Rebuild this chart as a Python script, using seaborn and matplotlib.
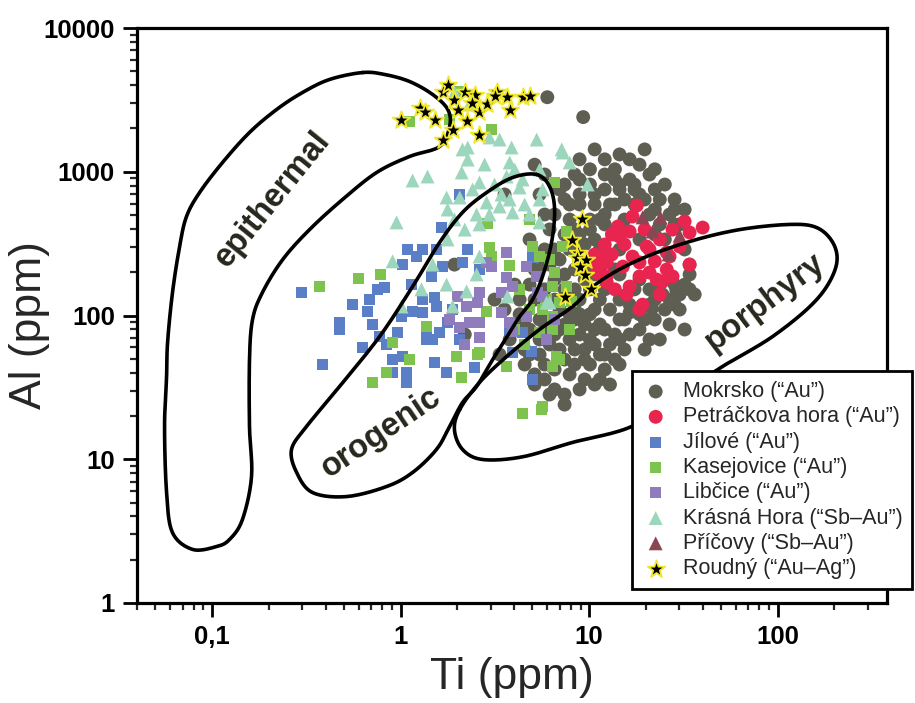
import numpy as np
import matplotlib
matplotlib.use('Agg')
import matplotlib.pyplot as plt
import seaborn as sns
from matplotlib.ticker import LogLocator, FixedLocator, FixedFormatter, NullFormatter

sns.set_theme(style='ticks')
plt.rcParams['font.family'] = ['Liberation Sans', 'DejaVu Sans']

# ---------------- data (Ti ppm, Al ppm) ----------------
mok_x = [6.0, 9.3, 10.7, 12.1, 14.5, 19.7, 22.3, 8.9, 5.14, 8.9,
         7.41, 10.1, 13.7, 16.4, 22.3, 25.2, 28.4, 26.7, 30.2, 22.3,
         17.4, 14.5, 12.1, 12.9, 10.7, 8.9, 7.41, 7.88, 8.9, 7.41,
         10.7, 12.1, 15.4, 17.4, 6.97, 5.46, 3.56, 16.4, 20.9, 23.7,
         28.4, 32.1, 28.4, 32.1, 34.1, 32.1, 36.3, 30.2, 28.4, 25.2,
         32.1, 19.7, 15.4, 13.7, 12.1, 11.4, 9.47, 9.47, 7.41, 6.56,
         7.41, 7.41, 8.9, 10.7, 13.7, 14.5, 12.9, 10.7, 8.9, 7.41,
         6.56, 12.1, 16.4, 18.5, 13.7, 17.4, 14.5, 10.7, 8.9, 8.38,
         6.56, 12.1, 10.1, 10.7, 8.38, 8.9, 12.9, 14.5, 12.1, 10.1,
         6.17, 5.46, 5.14, 4.55, 3.79, 4.55, 3.35, 1.93, 2.19, 4.28,
         4.28, 5.46, 3.56, 3.15, 4.03, 16.4, 22.3, 30.2, 34.1, 28.4,
         11.4, 10.1, 5.14, 5.81, 6.17, 5.81, 6.97, 8.38, 10.1, 11.4,
         9.47, 7.88, 6.56, 7.41, 10.1, 11.4, 8.38, 6.56, 5.81, 14.5,
         13.7, 15.4, 18.5, 22.3, 7.88, 6.97, 10.7, 12.9, 9.47, 20.9,
         23.7, 4.83, 5.14, 4.83, 5.81, 34.1, 18.5, 12.1, 19.7, 23.7,
         18.5, 14.5, 20.9, 26.7, 23.7, 8.38, 6.97, 6.17, 9.47, 8.38,
         4.28, 4.83, 8.38, 6.56, 5.81, 11.4,
         5.81, 10.1, 13.7, 18.5, 15.4, 20.9, 10.1, 11.4, 13.7, 7.88,
         6.56, 6.17, 7.41, 9.47, 8.9, 7.88, 6.97, 5.81, 8.38, 10.1,
         11.4, 14.5, 10.7, 7.88, 6.56, 15.4, 18.5, 20.9, 26.7, 22.3,
         19.7, 12.1, 5.14, 4.83, 4.55, 5.46, 5.81, 6.17, 25.2, 14.5,
         17.4, 24.5, 29.0, 16.4, 21.5]
mok_y = [3300, 2400, 1430, 1220, 1320, 1430, 1040, 1220, 1120, 883,
         815, 1040, 1040, 883, 752, 815, 641, 504, 430, 546,
         752, 752, 752, 592, 592, 592, 641, 465, 366, 366,
         338, 430, 465, 592, 752, 695, 695, 1220, 957, 641,
         546, 546, 430, 288, 193, 164, 140, 140, 119, 110,
         79.9, 58.0, 58.0, 49.4, 42.1, 35.9, 35.9, 49.4, 49.4, 42.1,
         28.2, 24.0, 73.8, 79.9, 73.8, 93.8, 110, 110, 102, 86.6,
         73.8, 152, 119, 102, 592, 815, 815, 695, 695, 957,
         815, 504, 465, 193, 152, 30.6, 33.1, 68.1, 53.5, 45.6,
         62.9, 53.5, 38.9, 45.6, 68.1, 58.0, 53.5, 226, 73.8, 129,
         102, 93.8, 110, 129, 164, 73.8, 93.8, 110, 152, 164,
         86.6, 102, 33.1, 35.9, 397, 288, 245, 209, 226, 288,
         312, 288, 178, 152, 152, 129, 119, 129, 152, 288,
         209, 397, 338, 366, 68.1, 58.0, 62.9, 62.9, 86.6, 152,
         164, 79.9, 209, 338, 504, 226, 1120, 957, 641, 430,
         178, 129, 119, 86.6, 68.1, 93.8, 110, 93.8, 58.0, 45.6,
         79.9, 53.5, 397, 288, 226, 209,
         957, 815, 883, 695, 641, 504, 397, 465, 366, 592,
         504, 226, 193, 178, 129, 102, 79.9, 79.9, 58.0, 68.1,
         53.5, 45.6, 33.1, 38.9, 30.6, 93.8, 79.9, 68.1, 129, 129,
         93.8, 79.9, 129, 164, 93.8, 68.1, 45.6, 28.2, 338, 193,
         152, 140, 150, 105, 112]

pet_x = [17.9, 14.2, 14.5, 15.4, 13.2, 11.4, 11.1, 12.4, 15.1, 18.5,
         18.5, 16.4, 15.8, 19.2, 20.9, 23.7, 27.7, 32.1, 40.0, 34.1,
         30.2, 26.7, 25.8, 24.5, 27.7, 20.9, 17.0, 12.4, 10.7, 18.5,
         17.0, 20.2, 25.8, 11.0, 12.4, 22.8, 10.4, 13.7, 22.3, 13.2,
         16.4, 19.7, 12.1, 34.1, 23.7]
pet_y = [582, 416, 354, 312, 266, 257, 219, 187, 219, 234,
         187, 159, 140, 119, 288, 338, 396, 451, 409, 378,
         302, 257, 209, 172, 187, 199, 257, 234, 266, 110,
         488, 302, 274, 199, 170, 178, 238, 152, 238, 366,
         384, 396, 312, 226, 140]

jil_x = [0.298, 0.386, 0.475, 0.475, 0.556, 0.629, 0.685, 0.668, 0.710, 0.755,
         0.822, 0.774, 0.843, 0.907, 0.907, 0.964, 1.012, 1.025, 1.089, 1.158,
         1.144, 1.216, 1.308, 1.308, 1.308, 1.374, 1.374, 1.46, 1.515, 1.552,
         1.552, 1.479, 1.515, 1.61, 1.67, 1.754, 1.65, 1.776, 1.887, 2.06,
         2.13, 2.06, 2.47, 2.62, 1.076, 1.076, 1.025, 5.01, 4.95, 5.01,
         3.93, 3.79, 4.44, 2.27]
jil_y = [144.5, 45.6, 89.4, 79.9, 119, 59.9, 129, 106.6, 86.6, 152,
         156.6, 71.4, 62.9, 49.4, 40.1, 76.2, 98.4, 226, 288, 106.6,
         164, 257, 288, 129, 104.9, 79.9, 68.1, 187, 133.5, 288,
         115.5, 68.1, 47.1, 76.2, 219, 40.1, 409, 89.4, 110, 68.1,
         234, 694, 43.5, 209, 40.1, 34.2, 51.8, 253, 56.2, 35.9,
         55.3, 79.9, 76.2, 288]

kas_x = [0.372, 0.599, 0.783, 0.907, 0.843, 0.710, 1.116, 1.374, 1.98, 2.11,
         2.56, 2.86, 2.96, 3.04, 3.79, 2.89, 4.44, 5.60, 1.116, 1.82,
         2.06, 3.04, 4.83, 5.01, 5.46, 6.17, 7.60, 6.56, 6.40, 5.95,
         5.67, 6.40, 6.40, 5.46, 6.72, 6.40, 2.62, 3.65, 7.60, 8.08,
         6.56, 7.24, 6.97, 6.97, 5.67, 4.28, 4.83, 4.03, 4.55, 7.88,
         8.69]
kas_y = [159, 181, 193, 64.9, 40.1, 34.2, 49.4, 83.9, 51.8, 37.0,
         53.5, 106.6, 297, 257, 223, 437, 20.8, 22.2, 2237, 2305,
         3616, 1965, 466, 302, 257, 245, 384, 199, 159, 129,
         110, 98.4, 79.9, 76.2, 51.8, 44.2, 55.3, 44.2, 159, 125,
         842, 302, 123, 49.4, 23.3, 152, 110, 79.9, 62.9, 79.9,
         245]

lib_x = [3.65, 3.04, 2.62, 2.56, 2.24, 2.01, 2.32, 2.62, 2.62, 3.65,
         3.93, 3.43, 3.43, 3.79, 4.66, 5.27, 5.33, 4.66, 5.95, 3.93,
         2.86, 2.06, 1.82, 5.67, 6.56, 2.19]
lib_y = [274, 219, 144.5, 123, 115.5, 135.6, 89.4, 89.4, 70.3, 184,
         159, 144.5, 105, 89.4, 219, 187, 144.5, 98.4, 68.1, 77.4,
         234, 82.5, 93.8, 135.6, 93.8, 62.9]

kra_x = [1.158, 1.39, 0.952, 1.754, 1.776, 2.11, 2.13, 2.27, 2.27, 2.96,
         3.35, 3.88, 5.27, 7.15, 3.79, 4.03, 3.65, 5.46, 2.06, 2.41,
         2.62, 2.19, 2.62, 2.53, 2.86, 3.35, 3.79, 3.93, 4.28, 4.44,
         5.46, 5.67, 5.46, 3.43, 0.907, 1.479, 1.776, 1.754, 1.29, 1.012,
         1.887, 2.24, 2.53, 2.62, 3.69, 5.95, 7.24, 7.88, 9.82, 2.32,
         2.96, 3.15, 4.83, 4.55, 1.93, 2.79, 1.93, 6.17]
kra_y = [869, 927, 444, 662, 546, 988, 1430, 1475, 1215, 1731,
         1675, 1475, 1675, 1430, 1160, 1035, 927, 1035, 662, 753,
         842, 396, 430, 504, 611, 573, 641, 521, 777, 884,
         641, 753, 444, 694, 238, 226, 338, 164, 152, 115.5,
         115.5, 147, 193, 257, 135.6, 123, 1361, 1160, 815, 2937,
         504, 815, 504, 592, 466, 1123, 3558, 123]

pri_x = [19.2, 23.9, 21.7, 30.2, 26.4]
pri_y = [481, 481, 384, 360, 266]

rou_x = [1.01, 1.26, 1.34, 1.515, 1.67, 1.776, 1.93, 2.01, 2.24, 1.89,
         1.67, 2.62, 2.19, 2.47, 2.62, 2.89, 3.23, 3.65, 3.79, 4.44,
         4.83, 2.38, 3.15,
         9.12, 8.08, 8.69, 8.58, 9.58, 8.90, 9.46, 10.2, 7.41]
rou_y = [2305, 2798, 2625, 2305, 3616, 4045, 3175, 2710, 2237, 1965,
         1675, 1816, 3616, 3446, 2584, 2937, 3616, 3285, 2710, 3285,
         3338, 3031, 3338,
         466, 333, 274, 253, 245, 219, 190, 152, 133.5]

# field outlines (traced vertices, Ti ppm / Al ppm)
epi_x = [0.629, 0.420, 0.302, 0.220, 0.158, 0.1137, 0.0859, 0.0732, 0.0673, 0.0617,
         0.0581, 0.0574, 0.0560, 0.0574, 0.0617, 0.0788, 0.1057, 0.124, 0.145, 0.162,
         0.158, 0.158, 0.164, 0.185, 0.237, 0.329, 0.492, 0.746, 1.116, 1.61,
         1.82, 1.78, 1.48, 1.116, 0.823]
epi_y = [4900, 4385, 3560, 2710, 1876, 1160, 717, 488, 302, 144.5,
         64.9, 37.6, 16.9, 5.87, 3.09, 2.36, 2.47, 2.77, 3.81, 7.59,
         16.9, 49.4, 93.8, 144.5, 245, 396, 641, 988, 1277, 1499,
         2065, 2710, 3445, 4245, 4750]
oro_x = [5.27, 6.17, 6.56, 6.32, 5.66, 5.01, 4.28, 3.79, 3.08, 2.53,
         2.13, 1.82, 1.55, 1.158, 0.843, 0.517, 0.341, 0.281, 0.264, 0.317,
         0.475, 0.774, 1.158, 1.61, 2.13, 2.86, 3.93]
oro_y = [957, 789, 546, 322, 187, 129, 98.4, 76.2, 49.4, 32.1,
         24.8, 16.9, 11.7, 8.09, 6.46, 5.50, 5.87, 8.09, 11.7, 16.9,
         32.1, 71.4, 159, 322, 521, 717, 912]
por_x = [2.06, 2.62, 3.65, 5.46, 8.17, 11.37, 18.5, 34.1, 62.9, 115.8,
         161, 196, 206, 182, 142.5, 94.0, 62.9, 51.0, 30.2, 16.8,
         8.17, 4.44, 2.72, 2.13, 1.93]
por_y = [22.2, 34.2, 51.8, 80.0, 115.5, 172.5, 245, 327, 396, 430,
         409, 322, 234, 159, 110, 71.4, 51.8, 44.2, 28.2, 16.9,
         13.1, 10.4, 9.96, 11.7, 16.1]

x_ticks = [0.1, 1, 10, 100]
x_ticklabels = ['0,1', '1', '10', '100']
y_ticks = [1, 10, 100, 1000, 10000]
y_ticklabels = ['1', '10', '100', '1000', '10000']


def smooth_closed(xs, ys, n=14):
    P = np.column_stack([np.log10(xs), np.log10(ys)])
    N = len(P)
    t = np.linspace(0, 1, n, endpoint=False)[:, None]
    segs = []
    for i in range(N):
        p0, p1, p2, p3 = P[i - 1], P[i], P[(i + 1) % N], P[(i + 2) % N]
        seg = 0.5 * (2 * p1 + (-p0 + p2) * t + (2 * p0 - 5 * p1 + 4 * p2 - p3) * t ** 2
                     + (-p0 + 3 * p1 - 3 * p2 + p3) * t ** 3)
        segs.append(seg)
    segs.append(P[:1])
    Q = np.vstack(segs)
    return 10 ** Q[:, 0], 10 ** Q[:, 1]


fig = plt.figure(figsize=(9.15, 7.03), dpi=100)
ax = fig.add_axes([137 / 915, 100 / 703, 750 / 915, 575 / 703])
ax.set_xscale('log')
ax.set_yscale('log')

series = [
    (mok_x, mok_y, 'Mokrsko (“Au”)', 'o', '#5e5f52', 100, 'none', 0, 2),
    (pet_x, pet_y, 'Petráčkova hora (“Au”)', 'o', '#e8254f', 100, 'none', 0, 2.1),
    (jil_x, jil_y, 'Jílové (“Au”)', 's', '#5a7fc6', 64, 'none', 0, 2.2),
    (kas_x, kas_y, 'Kasejovice (“Au”)', 's', '#7fc34f', 64, 'none', 0, 2.3),
    (lib_x, lib_y, 'Libčice (“Au”)', 's', '#8f7cbd', 64, 'none', 0, 2.4),
    (kra_x, kra_y, 'Krásná Hora (“Sb–Au”)', '^', '#9cd6bd', 100, 'none', 0, 2.5),
    (pri_x, pri_y, 'Příčovy (“Sb–Au”)', '^', '#8b4654', 100, 'none', 0, 2.6),
    (rou_x, rou_y, 'Roudný (“Au–Ag”)', '*', 'black', 175, '#f2e82a', 1.3, 4),
]
for xs, ys, lab, mk, col, s, ec, lw, z in series:
    sns.scatterplot(x=xs, y=ys, ax=ax, marker=mk, color=col, s=s,
                    edgecolor=ec, linewidth=lw, label=lab, zorder=z)

for fx, fy in [(epi_x, epi_y), (oro_x, oro_y), (por_x, por_y)]:
    sx, sy = smooth_closed(fx, fy)
    ax.plot(sx, sy, color='black', lw=2.6, zorder=3, solid_joinstyle='round')

lab_kw = dict(fontsize=23.5, fontweight='bold', color='#26261c', ha='center',
              va='center', rotation_mode='anchor', zorder=3.5)
ax.text(0.209, 641, 'epithermal', rotation=51, **lab_kw)
ax.text(0.793, 15.4, 'orogenic', rotation=34, **lab_kw)
ax.text(85.3, 123, 'porphyry', rotation=37, **lab_kw)

ax.set_xlim(0.04, 380)
ax.set_ylim(1, 10000)
ax.xaxis.set_major_locator(FixedLocator(x_ticks))
ax.xaxis.set_major_formatter(FixedFormatter(x_ticklabels))
ax.yaxis.set_major_locator(FixedLocator(y_ticks))
ax.yaxis.set_major_formatter(FixedFormatter(y_ticklabels))
ax.xaxis.set_minor_locator(LogLocator(base=10, subs=np.arange(2, 10)))
ax.yaxis.set_minor_locator(LogLocator(base=10, subs=np.arange(2, 10)))
ax.xaxis.set_minor_formatter(NullFormatter())
ax.yaxis.set_minor_formatter(NullFormatter())
ax.tick_params(which='major', length=10, width=2, direction='out',
               labelsize=18.5, pad=6, colors='black')
ax.tick_params(which='minor', length=5, width=1.6, direction='out')
for t in ax.get_xticklabels() + ax.get_yticklabels():
    t.set_fontweight('bold')
for sp in ax.spines.values():
    sp.set_linewidth(2.3)
    sp.set_color('black')
    sp.set_visible(True)
ax.grid(False)
ax.set_xlabel('')
ax.set_ylabel('')

fig.text(512 / 915, 1 - 678 / 703, 'Ti (ppm)', ha='center', va='center', fontsize=32)
fig.text(30 / 915, 1 - 325 / 703, 'Al (ppm)', ha='center', va='center',
         fontsize=32, rotation=90)

leg = ax.legend(loc='lower left', bbox_to_anchor=(632 / 915, 114 / 703),
                bbox_transform=fig.transFigure, frameon=True, fancybox=False,
                edgecolor='black', framealpha=1, fontsize=15.5, labelspacing=0.2,
                handletextpad=0.6, borderpad=0.45, handlelength=1.3,
                borderaxespad=0)
leg.get_frame().set_linewidth(2)
leg.set_zorder(10)

fig.savefig('out.png', dpi=100)
